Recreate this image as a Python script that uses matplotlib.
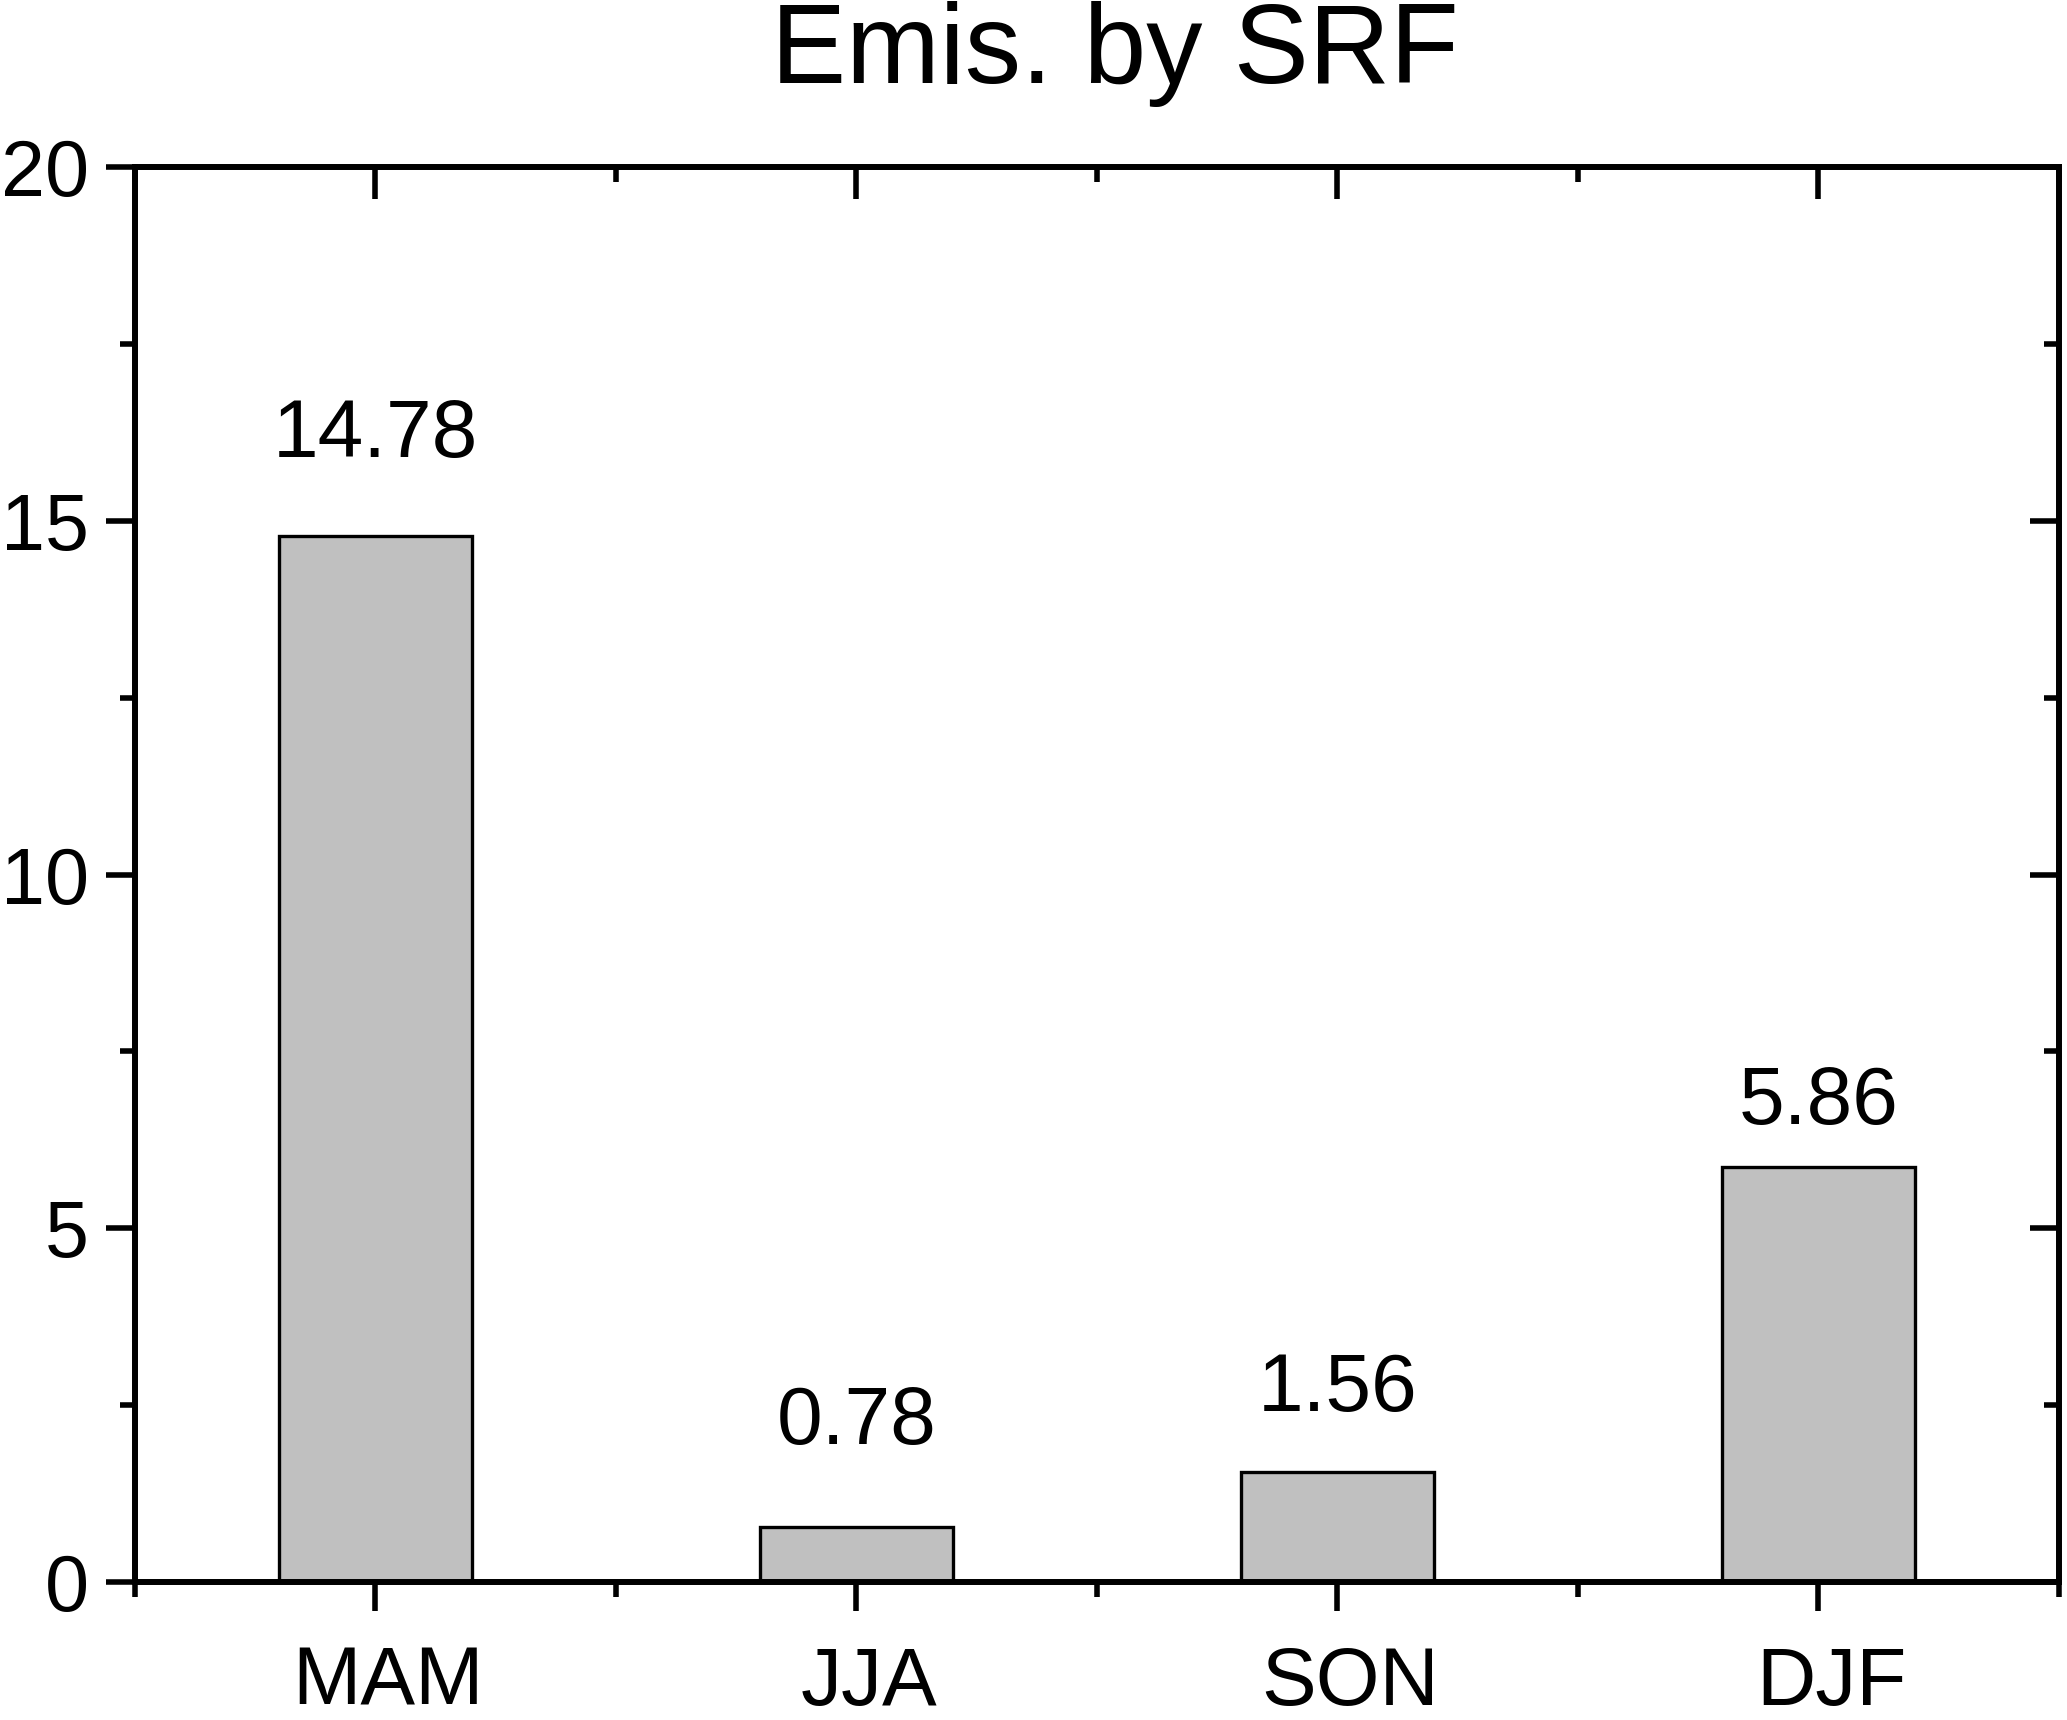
#bar chart of emissions by SRF for each season

import matplotlib
matplotlib.use('Agg')
import matplotlib.pyplot as plt
from matplotlib.ticker import MultipleLocator, FixedLocator
from matplotlib.transforms import ScaledTranslation

plt.rcParams['font.family'] = ['Liberation Sans', 'DejaVu Sans']

#season names and values
seasons = ['MAM', 'JJA', 'SON', 'DJF']
values = [14.78, 0.78, 1.56, 5.86]
value_labels = ['14.78', '0.78', '1.56', '5.86']
y_ticks = [0, 5, 10, 15, 20]

#gap (points) between each bar top and its label baseline, as in the original
label_gaps = [57, 60, 44, 31]

fig = plt.figure(figsize=(20.67, 17.2), dpi=100)
ax = fig.add_axes([0.0653, 0.0802, 0.9308, 0.8227])

x = list(range(len(seasons)))
ax.bar(x, values, width=0.4, color='#c0c0c0', edgecolor='black', linewidth=2.4, zorder=2)

#value labels above each bar
for xi, v, lab, g in zip(x, values, value_labels, label_gaps):
	ax.annotate(lab, xy=(xi, v), xytext=(0, g), textcoords='offset points',
		ha='center', va='baseline', fontsize=59)

ax.set_xlim(-0.5, len(seasons) - 0.5)
ax.set_ylim(0, 20)
ax.set_xticks(x)
ax.set_xticklabels(seasons)
ax.xaxis.set_minor_locator(FixedLocator([i - 0.5 for i in range(len(seasons) + 1)]))
ax.set_yticks(y_ticks)
ax.yaxis.set_minor_locator(MultipleLocator(2.5))

for s in ax.spines.values():
	s.set_linewidth(4)

ax.tick_params(axis='both', which='major', direction='out', length=21, width=4)
ax.tick_params(axis='y', which='major', pad=12, labelsize=57)
ax.tick_params(axis='x', which='major', pad=25, labelsize=59)
ax.tick_params(axis='both', which='minor', direction='out', length=11, width=4)

#category labels sit a little right of their ticks in the original
shift = ScaledTranslation(0.13, 0, fig.dpi_scale_trans)
for lbl in ax.get_xticklabels():
	lbl.set_transform(lbl.get_transform() + shift)

#right and top axes with inward ticks and no labels
axr = ax.twinx()
axr.set_ylim(ax.get_ylim())
axr.set_yticks(y_ticks)
axr.yaxis.set_minor_locator(MultipleLocator(2.5))
axr.tick_params(axis='y', which='major', direction='in', length=21, width=4, labelright=False)
axr.tick_params(axis='y', which='minor', direction='in', length=11, width=4)

axt = ax.twiny()
axt.set_xlim(ax.get_xlim())
axt.set_xticks(x)
axt.xaxis.set_minor_locator(FixedLocator([i - 0.5 for i in range(len(seasons) + 1)]))
axt.tick_params(axis='x', which='major', direction='in', length=23, width=4, labeltop=False)
axt.tick_params(axis='x', which='minor', direction='in', length=11, width=4)
for a in (axr, axt):
	for s in a.spines.values():
		s.set_linewidth(4)

fig.text(1115 / 2067, 1 - 83 / 1720, 'Emis. by SRF', ha='center', va='baseline', fontsize=81)

fig.savefig('out.png', dpi=100)
